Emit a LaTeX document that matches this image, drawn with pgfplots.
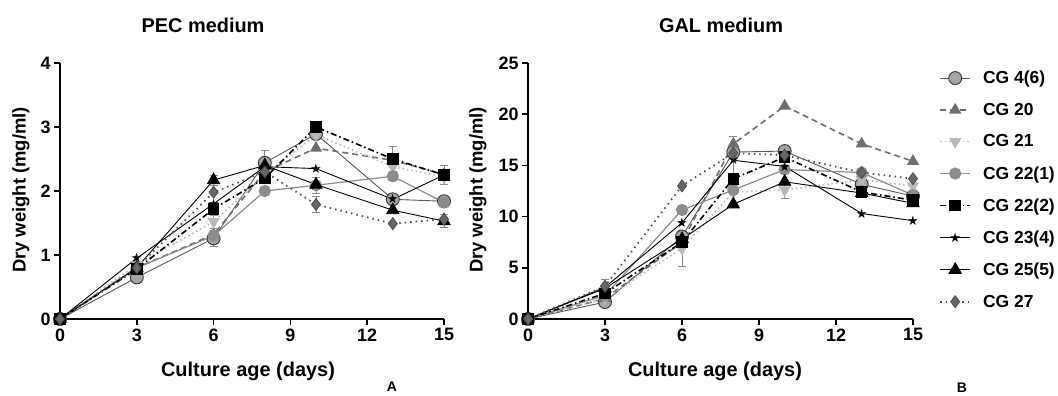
\documentclass[border=0pt]{standalone}
\usepackage{pgfplots}
\pgfplotsset{compat=1.18}
\usepackage{fontspec}
\setmainfont{Liberation Sans}
\newfontfamily\dejavu{DejaVu Sans}
\definecolor{c46}{HTML}{A6A6A6}
\definecolor{c20}{HTML}{6E6E6E}
\definecolor{c21}{HTML}{B8B8B8}
\definecolor{c221}{HTML}{8C8C8C}
\definecolor{c27}{HTML}{676767}
\definecolor{errc}{HTML}{8A8A8A}
\pgfplotsset{
  base/.style={
    scale only axis, width=384bp, height=256bp,
    axis lines=left, axis line style={-, line width=1.8bp},
    xmin=0, xmax=15, xtick={0,3,6,9,12,15},
    tick align=outside, major tick length=6bp,
    tick style={line width=1.5bp, black},
    tick label style={font=\fontsize{18}{18}\selectfont\bfseries},
    /pgf/number format/assume math mode=true,
    clip=false,
    error bars/y dir=both, error bars/y explicit,
    error bars/error bar style={errc, line width=0.8bp, solid},
    error bars/error mark options={errc, rotate=90, mark size=4bp, line width=0.8bp},
    legend image code/.code={\draw[mark repeat=2,mark phase=2] plot coordinates {(0bp,0bp)(15bp,0bp)(30bp,0bp)};},
  },
  s46/.style={color=black!65, solid, line width=0.9bp, mark=*, mark size=6.5bp, mark options={solid, fill=c46, draw=black!80, line width=0.9bp}},
  s20/.style={color=c20, dash pattern=on 6bp off 4bp, line width=1.6bp, mark=triangle*, mark size=5.5bp, mark options={solid, fill=c20, draw=c20}},
  s21/.style={color=c21, dash pattern=on 1.5bp off 3bp, line width=1.6bp, mark=triangle*, mark size=5.5bp, mark options={solid, rotate=180, fill=c21, draw=c21}},
  s221/.style={color=c221, solid, line width=1.2bp, mark=*, mark size=5.5bp, mark options={solid, fill=c221, draw=c221}},
  s222/.style={color=black, dash pattern=on 6bp off 3bp on 1.5bp off 3bp, line width=1.6bp, mark=square*, mark size=5bp, mark options={solid, fill=black, draw=black}},
  s234/.style={color=black, solid, line width=0.9bp, mark=text, text mark={\fontsize{13}{13}\selectfont\dejavu\color{black}★}},
  s255/.style={color=black, solid, line width=0.9bp, mark=triangle*, mark size=7bp, mark options={solid, fill=black, draw=black}},
  s27/.style={color=c27!80!black, dash pattern=on 1.5bp off 4bp, line width=1.8bp, mark=diamond*, mark size=6bp, mark options={solid, fill=c27, draw=black!70, line width=0.8bp}},
}
\begin{document}
\begin{tikzpicture}[x=1bp,y=1bp]
\useasboundingbox (-60bp,-77bp) rectangle (998bp,319bp);
% ---------------- PEC ----------------
\begin{axis}[base, at={(0bp,0bp)}, anchor=origin, ymin=0, ymax=4, ytick={0,1,2,3,4}]
\addplot[s46] coordinates {(0,0) (3,0.65) (6,1.26) +- (0,0.12) (8,2.44) +- (0,0.2) (10,2.89) (13,1.87) (15,1.84) +- (0,0.08)};
\addplot[s20] coordinates {(0,0) (3,0.8) (6,1.32) (8,2.3) (10,2.67) (13,2.48) (15,2.26)};
\addplot[s21] coordinates {(0,0) (3,0.85) (6,1.52) +- (0,0.1) (8,2.25) (10,2.88) (13,2.38) (15,2.22)};
\addplot[s221] coordinates {(0,0) (3,0.8) (6,1.3) (8,2.0) (10,2.09) +- (0,0.12) (13,2.23) (15,1.82)};
\addplot[s222] coordinates {(0,0) (3,0.78) (6,1.72) (8,2.2) (10,3.0) (13,2.5) +- (0,0.2) (15,2.25) +- (0,0.15)};
\addplot[s234] coordinates {(0,0) (3,0.95) (6,1.8) (8,2.38) (10,2.35) (13,1.87) (15,2.25)};
\addplot[s255] coordinates {(0,0) (3,0.8) (6,2.17) +- (0,0.08) (8,2.4) (10,2.1) (13,1.7) (15,1.53) +- (0,0.1)};
\addplot[s27] coordinates {(0,0) (3,0.8) (6,1.98) (8,2.3) (10,1.79) +- (0,0.12) (13,1.49) (15,1.56)};
\end{axis}
% ---------------- GAL ----------------
\begin{axis}[base, at={(468bp,0bp)}, anchor=origin, width=385bp, ymin=0, ymax=25, ytick={0,5,10,15,20,25},
  legend style={at={(1.06,0.985)}, anchor=north west, draw=none, fill=none,
    font=\fontsize{17.5}{17.5}\selectfont\bfseries, row sep=14bp,
    /tikz/every odd column/.append style={column sep=10bp}},
  legend cell align=left]
\addplot[s46] coordinates {(0,0) (3,1.66) (6,8.05) (8,16.3) (10,16.4) (13,13.15) (15,12.0)};
\addplot[s20] coordinates {(0,0) (3,2.0) (6,7.5) (8,17.1) +- (0,0.7) (10,20.8) (13,17.1) (15,15.4)};
\addplot[s21] coordinates {(0,0) (3,2.0) (6,6.9) +- (0,1.8) (8,12.4) (10,12.6) +- (0,0.8) (13,13.6) (15,13.0)};
\addplot[s221] coordinates {(0,0) (3,2.3) (6,10.65) (8,12.6) (10,14.6) (13,14.3) (15,12.1)};
\addplot[s222] coordinates {(0,0) (3,2.5) (6,7.5) (8,13.7) (10,15.8) (13,12.4) (15,11.6)};
\addplot[s234] coordinates {(0,0) (3,3.1) +- (0,0.8) (6,9.4) (8,15.5) +- (0,1.3) (10,14.9) (13,10.3) (15,9.6)};
\addplot[s255] coordinates {(0,0) (3,3.0) (6,7.8) (8,11.2) (10,13.4) (13,12.3) (15,11.3)};
\addplot[s27] coordinates {(0,0) (3,3.2) (6,13.0) (8,16.2) (10,16.0) (13,14.3) (15,13.7)};
\legend{CG 4(6),CG 20,CG 21,CG 22(1),CG 22(2),CG 23(4),CG 25(5),CG 27}
\end{axis}
% ---------------- texts ----------------
\node[font=\fontsize{20}{20}\selectfont\bfseries] at (143bp,294bp) {PEC medium};
\node[font=\fontsize{20}{20}\selectfont\bfseries] at (661bp,294bp) {GAL medium};
\node[font=\fontsize{20}{20}\selectfont\bfseries] at (188bp,-52bp) {Culture age (days)};
\node[font=\fontsize{20}{20}\selectfont\bfseries] at (655bp,-52bp) {Culture age (days)};
\node[font=\fontsize{18.5}{18.5}\selectfont\bfseries, rotate=90] at (-39bp,129bp) {Dry weight (mg/ml)};
\node[font=\fontsize{18.5}{18.5}\selectfont\bfseries, rotate=90] at (418bp,129bp) {Dry weight (mg/ml)};
\node[font=\fontsize{14}{14}\selectfont\bfseries] at (332bp,-68bp) {A};
\node[font=\fontsize{14}{14}\selectfont\bfseries] at (902bp,-69bp) {B};
\end{tikzpicture}
\end{document}
